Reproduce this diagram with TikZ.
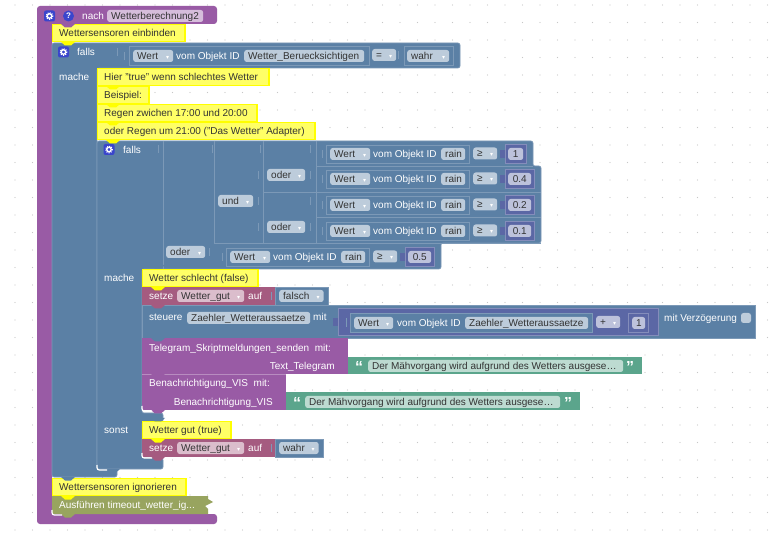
\documentclass[tikz,border=0pt]{standalone}
\usepackage{fontspec}
\setmainfont{Liberation Sans}
\newfontfamily\symfont{DejaVu Sans}
\usepackage{xcolor}
\definecolor{LogicBlue}{HTML}{5B80A5}
\definecolor{EdgeBlue}{HTML}{7C99B7}
\definecolor{ProcPurple}{HTML}{995BA5}
\definecolor{VarPink}{HTML}{A55B80}
\definecolor{MathPurple}{HTML}{5B67A5}
\definecolor{TextGreen}{HTML}{5BA58C}
\definecolor{FuncOlive}{HTML}{98A45F}
\definecolor{NoteYellow}{HTML}{FFFF00}
\definecolor{NoteFill}{HTML}{FFFF66}
\definecolor{IconBlue}{HTML}{3A45CC}
\definecolor{FieldText}{HTML}{333333}
\newcommand{\dd}{{\symfont\fontsize{6}{6}\selectfont\textcolor{white}{▾}}}
% one editable field of a block: name, left, right, middle, text
\newcommand{\fld}[5]{%
  \pgfmathsetmacro\fldw{#3-(#2)-8}%
  \node[field] (#1) at (#2,#4) {\makebox[\fldw pt][l]{#5}};}
% tab under a block
\newcommand{\bump}[3]{\fill[#3] (#1+9,#2) -- (#1+13,#2+3.5) -- (#1+19,#2+3.5) -- (#1+23,#2) -- cycle;}
% white corner under a stack
\newcommand{\whitecorner}[2]{\draw[hilite] (#1,#2-5) .. controls (#1,#2) .. (#1+5,#2) -- (#1+10,#2);}
% gear button
\newcommand{\gearicon}[3]{%
  \node[gearbox] (#1) at (#2,#3) {};
  \draw[white, line width=1.3] (#2,#3) circle (2.2);
  \draw[white, line width=1.1, dash pattern=on 1.1pt off 1.1pt] (#2,#3) circle (3.3);}
\begin{document}
\begin{tikzpicture}[
    x=1pt, y=-1pt,
    every node/.style={font=\fontsize{10}{12}\selectfont, inner sep=0pt},
    blocktext/.style={anchor=west, text=white, text height=9pt, text depth=2pt},
    righttext/.style={blocktext, anchor=east},
    notetext/.style={blocktext, text=FieldText},
    field/.style={anchor=west, fill=white, fill opacity=0.6, text opacity=1, text=FieldText,
      rounded corners=2.5pt, inner xsep=4pt, minimum height=12pt, text height=8.5pt, text depth=1.5pt},
    note/.style={fill=NoteFill, draw=NoteYellow, line width=1.5pt},
    edge/.style={draw=EdgeBlue, line width=0.6pt},
    frame/.style={fill=LogicBlue, edge},
    numframe/.style={fill=MathPurple, draw=MathPurple!75!white, line width=0.7pt},
    gearbox/.style={fill=IconBlue, rounded corners=2pt, minimum width=11pt, minimum height=11pt},
    hilite/.style={white, line width=1.2pt}
  ]
  \fill[white] (0,0) rectangle (777,537);
  \foreach \dotx in {15,32.5,...,770}
    \foreach \doty in {5,22.5,...,530}
      \fill[black!22] (\dotx,\doty) circle (0.7);

  % Hat block
  \fill[ProcPurple, rounded corners=3pt] (37,6) -- (217,6) -- (217,24) -- (52,24) -- (52,514) -- (217,514) -- (217,524) -- (37,524) -- cycle;
  \gearicon{hatgear}{49.5}{16}
  \node[fill=IconBlue, circle, minimum size=11pt, text=white, font=\fontsize{8}{8}\bfseries\selectfont] (hathelp) at (68.5,16) {?};
  \node[blocktext] (nach) at (82,16) {nach};
  \fld{procname}{107}{203}{16}{Wetterberechnung2}

  % Outer if
  \filldraw[fill=LogicBlue, edge, rounded corners=2pt] (52,43) -- (460,43) -- (460,68) -- (97,68) -- (97,469) -- (117,469) -- (117,477) -- (52,477) -- cycle;
  \gearicon{outergear}{63.5}{52}
  \node[blocktext] (outerfalls) at (77,52) {falls};
  \node[blocktext] (outermache) at (59,77) {mache};
  \filldraw[frame] (129,46) rectangle (369,65);
  \fld{outerwert}{133}{173}{56}{Wert\hfill\dd}
  \node[blocktext] (outerid) at (176,56) {vom Objekt ID};
  \fld{outerobj}{244}{364}{56}{Wetter\_Beruecksichtigen}
  \fld{outereq}{372}{396}{55}{=\hfill\dd}
  \filldraw[frame] (404,46) rectangle (453,65);
  \fld{outerval}{407}{449}{56}{wahr\hfill\dd}
  \foreach \tickx/\ticky in {117/52,124/56,398/55}
    \draw[edge] (\tickx,\ticky-4) -- (\tickx,\ticky+4);

  % Inner if
  \filldraw[fill=LogicBlue, edge, rounded corners=2pt] (97,141) -- (533,141) -- (533,166) -- (541,166) -- (541,243) -- (441,243) -- (441,269) -- (142,269) -- (142,413) -- (163,413) -- (163,422) -- (142,422) -- (142,458) -- (163,458) -- (163,469) -- (97,469) -- cycle;
  \draw[edge] (163,141) -- (163,269);
  \draw[edge] (214,141) -- (214,243) (214,243) -- (541,243);
  \draw[edge] (263,141) -- (263,243) (263,192) -- (541,192);
  \draw[edge] (316,141) -- (316,243) (316,166) -- (533,166) (316,217) -- (541,217);
  \gearicon{innergear}{109}{149.5}
  \node[blocktext] (innerfalls) at (123,150) {falls};
  \node[blocktext] (innermache) at (104,278) {mache};
  \node[blocktext] (innersonst) at (104,430) {sonst};
  \fld{orouter}{166}{205}{252}{oder\hfill\dd}
  \fld{andblock}{218}{253}{201}{und\hfill\dd}
  \fld{orfirst}{267}{305}{175}{oder\hfill\dd}
  \fld{orsecond}{267}{305}{227}{oder\hfill\dd}
  \foreach \tickx/\ticky in {158/149,212/149,260/149,310/149,322/154,258/175,310/175,322/179,
      258/201,310/201,322/205,258/227,310/227,322/231,209/252,222/257}
    \draw[edge] (\tickx,\ticky-4) -- (\tickx,\ticky+4);

  % Rain rows
  \foreach \n/\rowy/\rowx/\numr/\val in {a/154/326/526/1,b/179/326/534/0.4,c/205/326/534/0.2,d/231/326/534/0.1,e/257/226/434/0.5}{
    \filldraw[frame] (\rowx,\rowy-9) rectangle (\rowx+143,\rowy+9);
    \fld{wert\n}{\rowx+4}{\rowx+44}{\rowy}{Wert\hfill\dd}
    \node[blocktext] (id\n) at (\rowx+47,\rowy) {vom Objekt ID};
    \fld{rain\n}{\rowx+115}{\rowx+139}{\rowy}{rain}
    \fld{cmp\n}{\rowx+147}{\rowx+171}{\rowy-0.5}{≥\hfill\dd}
    \fill[MathPurple] (\rowx+174,\rowy-4) rectangle (\rowx+179,\rowy+4);
    \filldraw[numframe] (\rowx+179,\rowy-9.5) rectangle (\numr,\rowy+9.5);
    \fld{num\n}{\rowx+182}{\numr-3}{\rowy}{\hfill\val\hfill}
  }

  % Comments
  \foreach \name/\nx/\nr/\ntop/\txt in {
      einbinden/52/185/24/{Wettersensoren einbinden},
      hier/97/269/68/{Hier "true" wenn schlechtes Wetter},
      beispiel/97/149/86/{Beispiel:},
      zwischen/97/257/104/{Regen zwichen 17:00 und 20:00},
      umneun/97/315/122/{oder Regen um 21:00 ("Das Wetter" Adapter)},
      schlecht/142/258/269/{Wetter schlecht (false)},
      gut/142/231/421/{Wetter gut (true)},
      ignorieren/52/186/478/{Wettersensoren ignorieren}}{
    \filldraw[note] (\nx+0.5,\ntop+0.5) rectangle (\nr,\ntop+17.5);
    \node[notetext] (\name) at (\nx+7,\ntop+9) {\txt};
  }

  % Set blocks
  \foreach \n/\rowy/\valr/\word in {falsch/287/328/falsch,wahr/439/323/wahr}{
    \fill[VarPink] (142,\rowy) rectangle (275,\rowy+18);
    \filldraw[fill=LogicBlue, edge] (275,\rowy) rectangle (\valr,\rowy+18);
    \node[blocktext] (setze\n) at (149,\rowy+9) {setze};
    \fld{var\n}{177}{244}{\rowy+9}{Wetter\_gut\hfill\dd}
    \node[blocktext] (auf\n) at (248,\rowy+9) {auf};
    \draw[edge] (271,\rowy+5) -- (271,\rowy+13);
    \fld{val\n}{279}{\valr-4.5}{\rowy+9}{\word\hfill\dd}
  }

  % Control block
  \filldraw[fill=LogicBlue, edge] (142,305) rectangle (755,338);
  \node[blocktext] (steuere) at (149,317.5) {steuere};
  \fld{zaehler}{187}{310}{318}{Zaehler\_Wetteraussaetze}
  \node[blocktext] (steuermit) at (313,317.5) {mit};
  \fill[MathPurple] (333,318) rectangle (338,326);
  \filldraw[numframe] (338,308) rectangle (658,335);
  \filldraw[frame] (350,313) rectangle (592,332);
  \draw[edge] (346,318) -- (346,327);
  \fld{wertz}{354}{393}{323}{Wert\hfill\dd}
  \node[blocktext] (idz) at (397,323) {vom Objekt ID};
  \fld{objz}{465}{588}{323}{Zaehler\_Wetteraussaetze}
  \fld{plusz}{596}{620}{322}{+\hfill\dd}
  \filldraw[numframe] (628,313) rectangle (648,332);
  \fld{numz}{632}{645}{323}{\hfill 1\hfill}
  \node[blocktext] (delay) at (664,318) {mit Verzögerung};
  \node[fill=white, fill opacity=0.6, rounded corners=2.5pt, minimum size=10pt] (delaybox) at (746,318) {};

  % Procedure calls
  \fill[ProcPurple] (142,338) rectangle (348,374);
  \node[blocktext] (telegram) at (149,348) {Telegram\_Skriptmeldungen\_senden\ \ mit:};
  \node[righttext] (texttelegram) at (335,366) {Text\_Telegram};
  \fill[TextGreen] (348,357) rectangle (642,374);
  \node[blocktext, font=\fontsize{16}{16}\bfseries\selectfont] (quoteaopen) at (355,369) {“};
  \fld{textatext}{368}{623}{366}{Der Mähvorgang wird aufgrund des Wetters ausgese…}
  \node[blocktext, font=\fontsize{16}{16}\bfseries\selectfont] (quoteaclose) at (626,369) {”};
  \fill[ProcPurple] (142,374) rectangle (286,410);
  \draw[ProcPurple!70!white, line width=0.7pt] (142,374) -- (286,374);
  \node[blocktext] (benach) at (149,383) {Benachrichtigung\_VIS\ \ mit:};
  \node[righttext] (benachvis) at (273,402) {Benachrichtigung\_VIS};
  \fill[TextGreen] (286,392) rectangle (580,410);
  \node[blocktext, font=\fontsize{16}{16}\bfseries\selectfont] (quotebopen) at (293,405) {“};
  \fld{textbtext}{305}{560}{402}{Der Mähvorgang wird aufgrund des Wetters ausgese…}
  \node[blocktext, font=\fontsize{16}{16}\bfseries\selectfont] (quotebclose) at (564,405) {”};

  % Function call
  \fill[FuncOlive] (52,496) -- (208,496) -- (208,499) -- (213,502) -- (205,506) -- (208,509) -- (208,514) -- (52,514) -- cycle;
  \node[blocktext] (ausfuehren) at (59,505) {Ausführen timeout\_wetter\_ig...};

  % Tabs and corners
  \bump{52}{42}{NoteYellow}
  \bump{97}{86}{NoteYellow}
  \bump{97}{104}{NoteYellow}
  \bump{97}{122}{NoteYellow}
  \bump{97}{140}{NoteYellow}
  \bump{142}{287}{NoteYellow}
  \bump{142}{439}{NoteYellow}
  \bump{52}{496}{NoteYellow}
  \bump{142}{305}{VarPink}
  \bump{142}{457}{VarPink}
  \bump{142}{338}{LogicBlue}
  \bump{142}{374}{ProcPurple}
  \bump{142}{410}{ProcPurple}
  \bump{142}{265}{LogicBlue}
  \bump{142}{418}{LogicBlue}
  \bump{52}{24}{ProcPurple}
  \bump{97}{469}{LogicBlue}
  \bump{52}{477}{LogicBlue}
  \bump{52}{514}{FuncOlive}
  \whitecorner{142}{411}
  \whitecorner{142}{458}
  \whitecorner{97}{470}
  \whitecorner{52}{515}
\end{tikzpicture}
\end{document}
